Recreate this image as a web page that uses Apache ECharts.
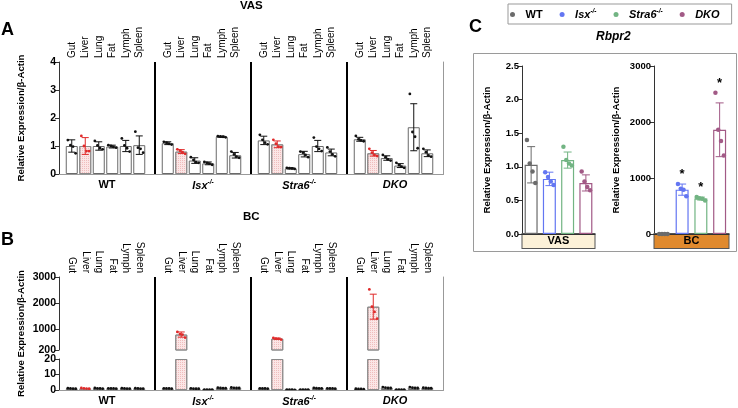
<!DOCTYPE html>
<html><head><meta charset="utf-8">
<script src="https://cdn.jsdelivr.net/npm/echarts@6/dist/echarts.min.js"></script>
<style>html,body{margin:0;padding:0;background:#fff}#c{width:738px;height:408px}</style>
</head><body><div id="c"></div>
<script>
const FONT = "'Liberation Sans', Arial, Helvetica, sans-serif";

// ---------- data ----------
const tissues = ['Gut', 'Liver', 'Lung', 'Fat', 'Lymph', 'Spleen'];
const groupNames = ['WT', 'Isx', 'Stra6', 'DKO'];
const groupSup = ['', '-/-', '-/-', ''];

// Panel A (VAS)
const vasTicks = [0, 1, 2, 3, 4];
const vasMeanWT = [1.00, 1.00, 1.00, 0.98, 1.00, 1.03];
const vasSdWT = [0.22, 0.30, 0.15, 0.05, 0.20, 0.33];
const vasPtsWT = [[1.21, 1.03, 0.98, 0.74], [1.36, 1.00, 0.82, 0.82], [1.18, 1.02, 0.92, 0.88], [1.03, 1.00, 0.97, 0.94], [1.27, 1.02, 0.92, 0.80], [1.51, 0.94, 0.90, 0.76]];
const vasMeanIsx = [1.10, 0.80, 0.48, 0.38, 1.33, 0.67];
const vasSdIsx = [0.05, 0.07, 0.10, 0.05, 0.02, 0.10];
const vasPtsIsx = [[1.15, 1.12, 1.08, 1.05], [0.88, 0.83, 0.78, 0.72], [0.60, 0.50, 0.42, 0.40], [0.43, 0.40, 0.37, 0.33], [1.35, 1.34, 1.33, 1.31], [0.80, 0.70, 0.62, 0.58]];
const vasMeanStra6 = [1.20, 1.06, 0.20, 0.71, 1.00, 0.77];
const vasSdStra6 = [0.15, 0.12, 0.02, 0.10, 0.20, 0.12];
const vasPtsStra6 = [[1.40, 1.22, 1.12, 1.06], [1.22, 1.08, 0.98, 0.96], [0.22, 0.21, 0.20, 0.18], [0.80, 0.76, 0.68, 0.60], [1.30, 0.98, 0.90, 0.82], [0.95, 0.80, 0.70, 0.63]];
const vasMeanDKO = [1.24, 0.74, 0.57, 0.30, 1.67, 0.74];
const vasSdDKO = [0.07, 0.10, 0.08, 0.07, 0.84, 0.12];
const vasPtsDKO = [[1.36, 1.24, 1.20, 1.17], [0.90, 0.76, 0.68, 0.64], [0.68, 0.60, 0.52, 0.48], [0.40, 0.32, 0.26, 0.22], [2.86, 1.50, 1.33, 0.92], [0.90, 0.78, 0.66, 0.62]];

// Panel B (BC), broken axis
const bcTicksUpper = [200, 1000, 2000, 3000];
const bcTicksLower = [0, 10, 20];
const bcMeanWT = [1.0, 1.0, 1.1, 1.0, 1.0, 1.0];
const bcSdWT = [0.2, 0.3, 0.2, 0.1, 0.2, 0.2];
const bcPtsWT = [[1.2, 1.0, 0.9, 0.8], [1.3, 1.0, 0.9, 0.8], [1.3, 1.1, 1.0, 0.9], [1.1, 1.0, 1.0, 0.9], [1.2, 1.0, 0.9, 0.9], [1.2, 1.0, 0.9, 0.9]];
const bcMeanIsx = [1.0, 792, 0.9, 0.2, 1.3, 1.4];
const bcSdIsx = [0.1, 100, 0.2, 0.05, 0.2, 0.2];
const bcPtsIsx = [[1.1, 1.0, 1.0, 0.9], [893, 810, 790, 675], [1.1, 0.9, 0.8, 0.8], [0.25, 0.2, 0.2, 0.15], [1.5, 1.3, 1.2, 1.2], [1.6, 1.4, 1.3, 1.3]];
const bcMeanStra6 = [1.0, 633, 0.15, 0.2, 1.2, 1.0];
const bcSdStra6 = [0.1, 25, 0.05, 0.05, 0.2, 0.1];
const bcPtsStra6 = [[1.1, 1.0, 1.0, 0.9], [662, 640, 630, 600], [0.2, 0.15, 0.15, 0.1], [0.25, 0.2, 0.2, 0.15], [1.4, 1.2, 1.1, 1.1], [1.1, 1.0, 1.0, 0.9]];
const bcMeanDKO = [0.7, 1861, 1.5, 0.2, 1.5, 1.3];
const bcSdDKO = [0.1, 480, 0.3, 0.05, 0.3, 0.2];
const bcPtsDKO = [[0.8, 0.7, 0.7, 0.6], [2523, 1860, 1660, 1400], [1.9, 1.5, 1.3, 1.3], [0.25, 0.2, 0.2, 0.15], [1.9, 1.5, 1.3, 1.3], [1.5, 1.3, 1.2, 1.2]];

// Panel C (Rbpr2)
const cGeno = ['WT', 'Isx', 'Stra6', 'DKO'];
const cGenoSup = ['', '-/-', '-/-', ''];
const cVasTicks = [0, 0.5, 1.0, 1.5, 2.0, 2.5];
const cVasMean = [1.03, 0.82, 1.10, 0.76];
const cVasSd = [0.27, 0.10, 0.12, 0.12];
const cVasPts = [[1.40, 1.05, 0.93, 0.76], [0.92, 0.85, 0.78, 0.73], [1.30, 1.10, 1.05, 1.02], [0.93, 0.78, 0.70, 0.65]];
const cBcTicks = [0, 1000, 2000, 3000];
const cBcMean = [1, 792, 633, 1861];
const cBcSd = [0.2, 100, 25, 480];
const cBcPts = [[1.2, 1.0, 0.9, 0.9], [893, 810, 790, 675], [662, 640, 630, 600], [2523, 1860, 1660, 1400]];
const cBcSig = ['', '*', '*', '*'];

// ---------- styles ----------
const cColors = ['#6b6b6b', '#6376f2', '#72b483', '#a25a86'];
const liverRed = '#e02a2a';
const plainBar = {color: '#fff', borderColor: '#6a6a6a', borderWidth: 1};
const liverBar = {color: '#fbe6e6', borderColor: '#8a8a8a', borderWidth: 1,
  decal: {symbol: 'rect', symbolSize: 1, dashArrayX: [1, 1], dashArrayY: [1, 1], color: 'rgba(225,140,140,0.45)'}};

const vasMean = [vasMeanWT, vasMeanIsx, vasMeanStra6, vasMeanDKO];
const vasSd = [vasSdWT, vasSdIsx, vasSdStra6, vasSdDKO];
const vasPts = [vasPtsWT, vasPtsIsx, vasPtsStra6, vasPtsDKO];
const bcMean = [bcMeanWT, bcMeanIsx, bcMeanStra6, bcMeanDKO];
const bcSd = [bcSdWT, bcSdIsx, bcSdStra6, bcSdDKO];
const bcPts = [bcPtsWT, bcPtsIsx, bcPtsStra6, bcPtsDKO];

const grids = [], xAxes = [], yAxes = [], series = [];
function addGrid(g) { grids.push(Object.assign({outerBoundsMode: 'none', containLabel: false}, g)); return grids.length - 1; }
function addX(a) { xAxes.push(a); return xAxes.length - 1; }
function addY(a) { yAxes.push(a); return yAxes.length - 1; }
const hiddenParts = {axisLine: {show: false}, axisTick: {show: false}, minorTick: {show: false}, splitLine: {show: false}, minorSplitLine: {show: false}, splitArea: {show: false}};

const yName = 'Relative Expression/\u03b2-Actin';
const yNameStyle = {fontFamily: FONT, fontWeight: 'bold', fontSize: 9.6, color: '#000'};
const tickLabel = {fontFamily: FONT, fontWeight: 'bold', fontSize: 10.5, color: '#000', margin: 3};
const richSup = {
  b: {fontFamily: FONT, fontWeight: 'bold', fontSize: 11, color: '#000'},
  i: {fontFamily: FONT, fontWeight: 'bold', fontStyle: 'italic', fontSize: 11, color: '#000'},
  s: {fontFamily: FONT, fontWeight: 'bold', fontStyle: 'italic', fontSize: 6.5, color: '#000', verticalAlign: 'top', lineHeight: 13}
};
const groupLabel = {
  margin: 5, interval: 0,
  formatter: (v, i) => (i === 0 ? '{b|' + v + '}' : '{i|' + v + '}') + (groupSup[i] ? '{s|' + groupSup[i] + '}' : ''),
  rich: richSup
};
const tissueLabel = {rotate: 90, interval: 0, fontFamily: FONT, fontSize: 10, color: '#000', margin: 4};

function addBars(xi, yi, means, fn) {
  series.push({type: 'bar', xAxisIndex: xi, yAxisIndex: yi, barWidth: 12, clip: true, silent: true, z: 2,
    data: means.map((m, i) => ({value: fn(m), itemStyle: i === 1 ? liverBar : plainBar}))});
}
function addErr(xi, yi, means, sds, colorFn, keep, cap) {
  series.push({type: 'custom', xAxisIndex: xi, yAxisIndex: yi, z: 4, silent: true, clip: true,
    data: means.map((m, i) => [i, m, sds[i]]).filter(d => keep(d[1])),
    renderItem: (p, api) => {
      const i = api.value(0), m = api.value(1), s = api.value(2);
      const t = api.coord([i, m + s]), b = api.coord([i, m - s]);
      const col = colorFn(i), w = cap;
      const st = {stroke: col, lineWidth: 1};
      return {type: 'group', children: [
        {type: 'line', shape: {x1: t[0], y1: t[1], x2: b[0], y2: b[1]}, style: st},
        {type: 'line', shape: {x1: t[0] - w, y1: t[1], x2: t[0] + w, y2: t[1]}, style: st},
        {type: 'line', shape: {x1: b[0] - w, y1: b[1], x2: b[0] + w, y2: b[1]}, style: st}
      ]};
    }});
}
function addDots(xi, yi, pts, colorFn, keep) {
  const data = [];
  pts.forEach((arr, i) => arr.forEach((v, j) => { if (keep(v)) data.push([i, v, j, arr.length]); }));
  series.push({type: 'custom', xAxisIndex: xi, yAxisIndex: yi, z: 5, silent: true, clip: true, data,
    renderItem: (p, api) => {
      const c = api.coord([api.value(0), api.value(1)]);
      const dx = (api.value(2) - (api.value(3) - 1) / 2) * 2.6;
      return {type: 'circle', shape: {cx: c[0] + dx, cy: c[1], r: 1.4}, style: {fill: colorFn(api.value(0))}};
    }});
}
const dotColor = i => i === 1 ? liverRed : '#111';

// ---------- Panel A ----------
const gA = addGrid({left: 59, top: 62, width: 384, height: 112});
addX({gridIndex: gA, type: 'category', data: groupNames, position: 'bottom',
  axisLine: {lineStyle: {color: '#555', width: 1}},
  axisTick: {alignWithLabel: true, length: 4, lineStyle: {color: '#777'}},
  axisLabel: groupLabel,
  splitLine: {show: true, showMinLine: false, showMaxLine: false, lineStyle: {color: '#000', width: 2}}});
addX(Object.assign({gridIndex: gA, type: 'category', data: groupNames, position: 'top', axisLabel: {show: false}}, hiddenParts,
  {axisLine: {show: true, lineStyle: {color: '#999'}}}));
addY({gridIndex: gA, type: 'value', min: vasTicks[0], max: vasTicks[vasTicks.length - 1], interval: 1,
  axisLine: {show: true, lineStyle: {color: '#333'}}, axisTick: {show: true, length: 4, lineStyle: {color: '#333'}},
  axisLabel: tickLabel, splitLine: {show: false},
  name: yName, nameLocation: 'middle', nameGap: 33, nameTextStyle: yNameStyle});
addY(Object.assign({gridIndex: gA, type: 'value', position: 'right', min: 0, max: 4, axisLabel: {show: false}}, hiddenParts,
  {axisLine: {show: true, lineStyle: {color: '#999'}}}));

groupNames.forEach((g, gi) => {
  const gid = addGrid({left: 59 + 96 * gi + 6, top: 62, width: 81, height: 112});
  const xi = addX(Object.assign({gridIndex: gid, type: 'category', data: tissues, position: 'top', axisLabel: tissueLabel}, hiddenParts));
  const yi = addY({gridIndex: gid, type: 'value', min: 0, max: 4, show: false});
  addBars(xi, yi, vasMean[gi], m => m);
  addErr(xi, yi, vasMean[gi], vasSd[gi], dotColor, () => true, 3.5);
  addDots(xi, yi, vasPts[gi], dotColor, () => true);
});

// ---------- Panel B ----------
const gB = addGrid({left: 59, top: 277, width: 384, height: 113});
addX({gridIndex: gB, type: 'category', data: groupNames, position: 'bottom',
  axisLine: {lineStyle: {color: '#555', width: 1}},
  axisTick: {alignWithLabel: true, length: 4, lineStyle: {color: '#777'}},
  axisLabel: groupLabel,
  splitLine: {show: true, showMinLine: false, showMaxLine: false, lineStyle: {color: '#000', width: 2}}});
addX(Object.assign({gridIndex: gB, type: 'category', data: groupNames, position: 'top', axisLabel: {show: false}}, hiddenParts,
  {axisLine: {show: true, lineStyle: {color: '#999'}}}));
addY(Object.assign({gridIndex: gB, type: 'value', min: 0, max: 1, axisLabel: {show: false},
  name: yName, nameLocation: 'middle', nameGap: 33, nameTextStyle: yNameStyle}, hiddenParts));
addY(Object.assign({gridIndex: gB, type: 'value', position: 'right', min: 0, max: 1, axisLabel: {show: false}}, hiddenParts,
  {axisLine: {show: true, lineStyle: {color: '#999'}}}));

const gBu = addGrid({left: 59, top: 277, width: 384, height: 73});
addX({gridIndex: gBu, type: 'category', data: groupNames, show: false});
addY({gridIndex: gBu, type: 'value', min: bcTicksUpper[0], max: bcTicksUpper[bcTicksUpper.length - 1],
  axisLine: {show: true, lineStyle: {color: '#333'}},
  axisTick: {show: true, length: 4, customValues: bcTicksUpper, lineStyle: {color: '#333'}},
  axisLabel: Object.assign({}, tickLabel, {customValues: bcTicksUpper, formatter: v => String(v)}), splitLine: {show: false}});
const gBl = addGrid({left: 59, top: 359, width: 384, height: 31});
addX({gridIndex: gBl, type: 'category', data: groupNames, show: false});
addY({gridIndex: gBl, type: 'value', min: bcTicksLower[0], max: bcTicksLower[bcTicksLower.length - 1], interval: 10,
  axisLine: {show: true, lineStyle: {color: '#333'}},
  axisTick: {show: true, length: 4, lineStyle: {color: '#333'}},
  axisLabel: tickLabel, splitLine: {show: false}});

groupNames.forEach((g, gi) => {
  const gu = addGrid({left: 59 + 96 * gi + 6, top: 277, width: 81, height: 73});
  const xu = addX(Object.assign({gridIndex: gu, type: 'category', data: tissues, position: 'top', axisLabel: tissueLabel}, hiddenParts));
  const yu = addY({gridIndex: gu, type: 'value', min: 200, max: 3000, show: false});
  addBars(xu, yu, bcMean[gi], m => m > 200 ? m : '-');
  addErr(xu, yu, bcMean[gi], bcSd[gi], dotColor, m => m > 200, 3.5);
  addDots(xu, yu, bcPts[gi], dotColor, v => v > 200);

  const gl = addGrid({left: 59 + 96 * gi + 6, top: 359, width: 81, height: 31});
  const xl = addX({gridIndex: gl, type: 'category', data: tissues, show: false});
  const yl = addY({gridIndex: gl, type: 'value', min: 0, max: 20, show: false});
  addBars(xl, yl, bcMean[gi], m => Math.min(m, 20));
  addDots(xl, yl, bcPts[gi], dotColor, v => v <= 20);
});

// ---------- Panel C ----------
function cPanel(left, width, ticks, interval, means, sds, pts, bandText, bandFill, labelFmt, nameGap) {
  const gid = addGrid({left: left, top: 66, width: width, height: 168});
  const xi = addX({gridIndex: gid, type: 'category', data: cGeno,
    axisLine: {lineStyle: {color: '#333'}}, axisTick: {show: false}, axisLabel: {show: false},
    name: '{band|' + bandText + '}', nameLocation: 'middle', nameGap: 0,
    nameTextStyle: {verticalAlign: 'top', rich: {band: {fontFamily: FONT, fontWeight: 'bold', fontSize: 11, color: '#000',
      backgroundColor: bandFill, borderColor: '#555', borderWidth: 1,
      width: width - 1, height: 14, lineHeight: 14, align: 'center', padding: 0}}}});
  const yi = addY({gridIndex: gid, type: 'value', min: ticks[0], max: ticks[ticks.length - 1], interval: interval,
    axisLine: {show: true, lineStyle: {color: '#333'}},
    axisTick: {show: true, length: 4, lineStyle: {color: '#333'}},
    axisLabel: Object.assign({}, tickLabel, {fontSize: 9.5, formatter: labelFmt}), splitLine: {show: false},
    name: yName, nameLocation: 'middle', nameGap: nameGap, nameTextStyle: yNameStyle});
  series.push({type: 'bar', name: 'bars', xAxisIndex: xi, yAxisIndex: yi, barWidth: 13, silent: true,
    data: means.map((m, k) => ({value: m, itemStyle: {color: '#fff', borderColor: cColors[k], borderWidth: 1.2}}))});
  addErr(xi, yi, means, sds, k => cColors[k], () => true, 4);
  cGeno.forEach((g, k) => {
    const n = pts[k].length;
    series.push({type: 'scatter', name: g, xAxisIndex: xi, yAxisIndex: yi, symbol: 'circle', symbolSize: 4.5, z: 5, silent: true,
      itemStyle: {color: cColors[k], opacity: 1},
      data: pts[k].map((v, j) => ({value: [k, v], symbolOffset: [(j - (n - 1) / 2) * 2.8, 0]}))});
  });
  return [xi, yi];
}
cPanel(522, 73, cVasTicks, 0.5, cVasMean, cVasSd, cVasPts, 'VAS', '#fcf1d8', v => v.toFixed(1), 30);
const [xr, yr] = cPanel(654, 75, cBcTicks, 1000, cBcMean, cBcSd, cBcPts, 'BC', '#e08a2e', v => String(v), 33);
series.push({type: 'custom', xAxisIndex: xr, yAxisIndex: yr, z: 6, silent: true,
  data: cBcSig.map((s, k) => [k, Math.max(cBcMean[k] + cBcSd[k], ...cBcPts[k])]).filter((d, k) => cBcSig[k]),
  renderItem: (p, api) => {
    const k = api.value(0);
    const c = api.coord([k, api.value(1)]);
    return {type: 'text', x: c[0], y: c[1] - 3,
      style: {text: cBcSig[k], align: 'center', verticalAlign: 'bottom', textAlign: 'center', textVerticalAlign: 'bottom',
        font: 'bold 13px ' + FONT, fill: '#000'}};
  }});

const titleStyle = (fs, italic) => ({fontFamily: FONT, fontWeight: 'bold', fontStyle: italic ? 'italic' : 'normal', fontSize: fs, color: '#000'});
const option = {
  animation: false,
  backgroundColor: '#fff',
  title: [
    {text: 'A', left: 1, top: 21, padding: 0, textStyle: titleStyle(18)},
    {text: 'VAS', left: 240, top: 0, padding: 0, textStyle: titleStyle(11.5)},
    {text: 'B', left: 1, top: 231, padding: 0, textStyle: titleStyle(18)},
    {text: 'BC', left: 243, top: 211, padding: 0, textStyle: titleStyle(11.5)},
    {text: 'C', left: 469, top: 18, padding: 0, textStyle: titleStyle(18)},
    {text: 'Rbpr2', left: 596, top: 31, padding: 0, textStyle: titleStyle(12, true)}
  ],
  legend: {
    data: cGeno, left: 508, top: 4, padding: [4, 12, 4, 2], itemGap: 17, itemWidth: 16, itemHeight: 5, icon: 'circle',
    borderColor: '#999', borderWidth: 1, borderRadius: 0, selectedMode: false,
    formatter: name => {
      const k = cGeno.indexOf(name);
      return (k === 0 ? '{b|' + name + '}' : '{i|' + name + '}') + (cGenoSup[k] ? '{s|' + cGenoSup[k] + '}' : '');
    },
    textStyle: {fontFamily: FONT, fontWeight: 'bold', fontSize: 11, color: '#000', rich: richSup}
  },
  graphic: [
    {type: 'rect', shape: {x: 473.5, y: 53.5, width: 263, height: 198}, style: {fill: 'none', stroke: '#9a9a9a', lineWidth: 1}, z: -1, silent: true}
  ],
  grid: grids, xAxis: xAxes, yAxis: yAxes, series: series
};
const chart = echarts.init(document.getElementById('c'), null, {renderer: 'canvas'});
chart.setOption(option);
</script>
</body></html>
